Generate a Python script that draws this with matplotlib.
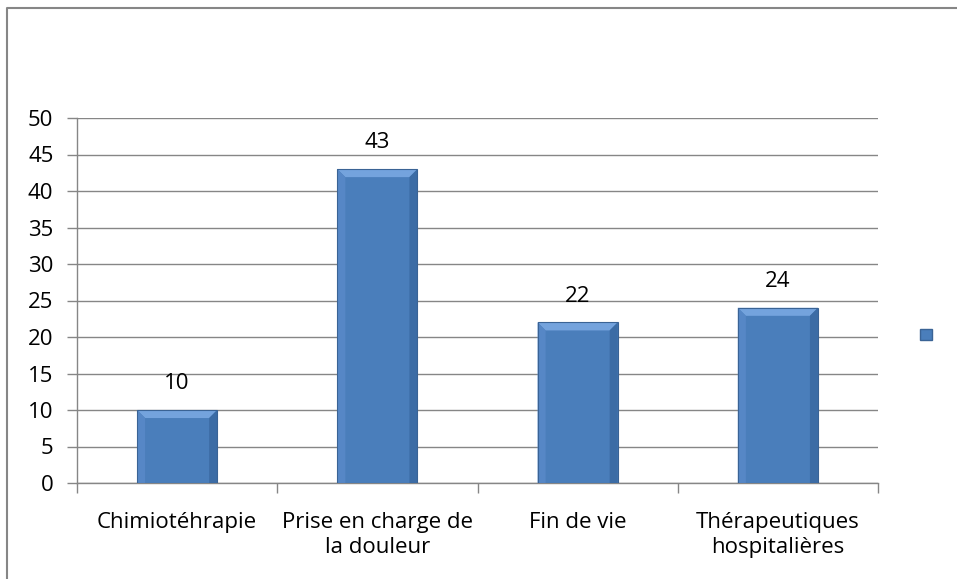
import matplotlib
matplotlib.use("Agg")
import matplotlib.pyplot as plt
from matplotlib.patches import Polygon, Rectangle
from matplotlib.lines import Line2D
import numpy as np

categories = ["Chimiotéhrapie", "Prise en charge de\nla douleur", "Fin de vie", "Thérapeutiques\nhospitalières"]
values = [10, 43, 22, 24]
yticks = [0, 5, 10, 15, 20, 25, 30, 35, 40, 45, 50]

plt.rcParams['font.family'] = ['Open Sans', 'DejaVu Sans']

W, H = 957, 579
fig = plt.figure(figsize=(W/100, H/100), dpi=100)
# outer frame (only left and top edges visible)
fig.lines.append(Line2D([7.5/W, 7.5/W, 1.0], [0.0, 1-7.5/H, 1-7.5/H], transform=fig.transFigure,
                        color='#868686', linewidth=1.5, figure=fig))

ax = fig.add_axes([77/W, 1-483/H, (878-77)/W, (483-118)/H])
x = np.arange(len(values))
bw = 0.4
base = '#4A7EBB'
bars = ax.bar(x, values, width=bw, color=base, edgecolor='none', linewidth=0, zorder=3)

# bevel effect from bar geometry
for b in bars:
    x0, y0 = b.get_x(), b.get_y()
    w, h = b.get_width(), b.get_height()
    dx = w * 0.1
    dy = 1.1
    ax.add_patch(Polygon([(x0, y0+h), (x0+w, y0+h), (x0+w-dx, y0+h-dy), (x0+dx, y0+h-dy)],
                         closed=True, facecolor='#74A3DD', edgecolor='none', zorder=4))
    ax.add_patch(Polygon([(x0, y0+h), (x0+dx, y0+h-dy), (x0+dx, y0), (x0, y0)],
                         closed=True, facecolor='#5687C6', edgecolor='none', zorder=4))
    ax.add_patch(Polygon([(x0+w, y0+h), (x0+w-dx, y0+h-dy), (x0+w-dx, y0), (x0+w, y0)],
                         closed=True, facecolor='#3C6CA5', edgecolor='none', zorder=4))
    ax.add_patch(Rectangle((x0, y0), w, h, fill=False, edgecolor='#3A6395', linewidth=0.8, zorder=5))
    ax.annotate(f"{int(h)}", xy=(x0 + w/2, h), xytext=(0, 19), textcoords='offset points',
                ha='center', va='center', fontsize=16, color='black', zorder=6)

ax.set_xlim(-0.5, len(values) - 0.5)
ax.set_ylim(0, 50)
ax.set_yticks(yticks)
ax.set_yticklabels([str(t) for t in yticks], fontsize=16)
ax.yaxis.grid(True, color='#868686', linewidth=1, zorder=0)
ax.set_axisbelow(True)

ax.set_xticks(x)
ax.set_xticklabels(categories, fontsize=16, linespacing=1.25)
ax.tick_params(axis='x', length=0, pad=21)
ax.set_xticks(np.arange(-0.5, len(values)), minor=True)
ax.tick_params(axis='x', which='minor', length=7, color='#868686', width=1)
ax.tick_params(axis='y', length=7, color='#868686', width=1, pad=10)

for s in ['top', 'right']:
    ax.spines[s].set_visible(False)
for s in ['left', 'bottom']:
    ax.spines[s].set_color('#868686')
    ax.spines[s].set_linewidth(1)

handle = Rectangle((0, 0), 1, 1, facecolor=base, edgecolor='#3A6395')
leg = fig.legend([handle], [''], loc='center', bbox_to_anchor=(926/W, 1-336/H),
                 frameon=False, handlelength=0.8, handleheight=0.8, handletextpad=0)

fig.savefig("out.png", dpi=100)
